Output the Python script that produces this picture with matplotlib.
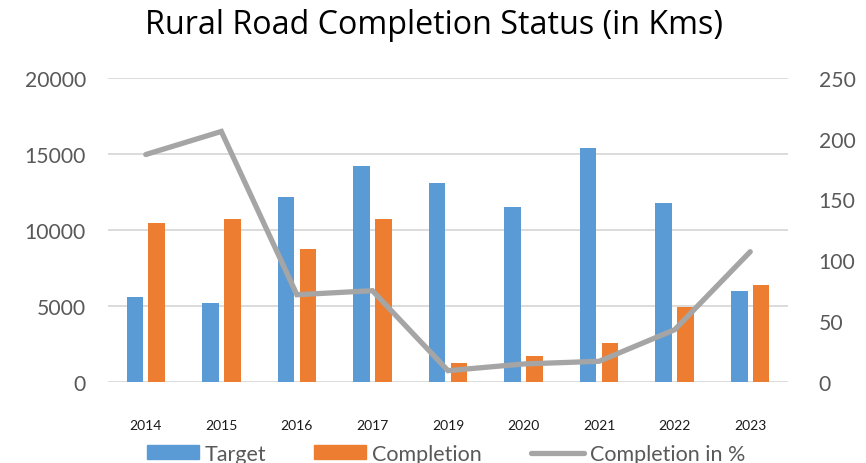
import matplotlib
matplotlib.use("Agg")
import matplotlib.pyplot as plt
import numpy as np
from matplotlib.patches import Patch
from matplotlib.lines import Line2D

years = ["2014", "2015", "2016", "2017", "2019", "2020", "2021", "2022", "2023"]
target = [5560, 5185, 12170, 14210, 13110, 11510, 15400, 11770, 5980]
completion = [10455, 10720, 8740, 10700, 1210, 1715, 2530, 4900, 6390]
completion_pct = [187, 206, 71.6, 74.9, 9.1, 14.6, 16.8, 42.8, 107]

plt.rcParams['font.family'] = ['Lato', 'DejaVu Sans']

BLUE = "#5b9bd5"
ORANGE = "#ed7d31"
GRAY = "#a5a5a5"
TXT = "#595959"
GRID = "#d9d9d9"

fig = plt.figure(figsize=(8.66, 4.64), dpi=100)
ax = fig.add_axes([108/866, 1-382.7/464, 680/866, (382.7-79)/464])
x = np.arange(len(years))
w = 0.22
ax.bar(x - 0.145, target, width=w, color=BLUE, zorder=2)
ax.bar(x + 0.145, completion, width=w, color=ORANGE, zorder=2)
ax.set_xlim(-0.5, len(years) - 0.5)
ax.set_ylim(0, 20000)
ax.set_yticks(np.arange(0, 20001, 5000))
ax.yaxis.grid(True, color=GRID, linewidth=1.3, zorder=0)
ax.set_axisbelow(True)
for s in ax.spines.values():
    s.set_visible(False)
ax.tick_params(axis='y', length=0, pad=16, labelsize=15.2, labelcolor=TXT)
ax.set_xticks(x)
ax.set_xticklabels(years, fontsize=10, color='#1a1a1a')
ax.tick_params(axis='x', length=0, pad=27)

ax2 = ax.twinx()
ax2.plot(x, completion_pct, color=GRAY, linewidth=3.8, solid_capstyle='round',
         solid_joinstyle='miter', zorder=3)
ax2.set_ylim(0, 250)
ax2.set_yticks(np.arange(0, 251, 50))
for s in ax2.spines.values():
    s.set_visible(False)
ax2.tick_params(axis='y', length=0, pad=22, labelsize=15.2, labelcolor=TXT)

fig.text(434/866, 1-26/464, "Rural Road Completion Status (in Kms)", ha='center',
         va='center', fontsize=23.2, color='black', family=['Open Sans', 'DejaVu Sans'])

ly = 1 - 455/464
leg_kw = dict(frameon=False, fontsize=15.5, labelcolor=TXT, handletextpad=0.28,
              borderpad=0, borderaxespad=0, handleheight=0.62)
fig.legend([Patch(color=BLUE)], ["Target"], loc='center left',
           bbox_to_anchor=(147/866, ly), handlelength=2.4, **leg_kw)
fig.legend([Patch(color=ORANGE)], ["Completion"], loc='center left',
           bbox_to_anchor=(314/866, ly), handlelength=2.4, **leg_kw)
fig.legend([Line2D([0], [0], color=GRAY, linewidth=3.8, solid_capstyle='round')],
           ["Completion in %"], loc='center left',
           bbox_to_anchor=(531/866, ly), handlelength=2.45, **leg_kw)

fig.savefig("out.png", dpi=100)
